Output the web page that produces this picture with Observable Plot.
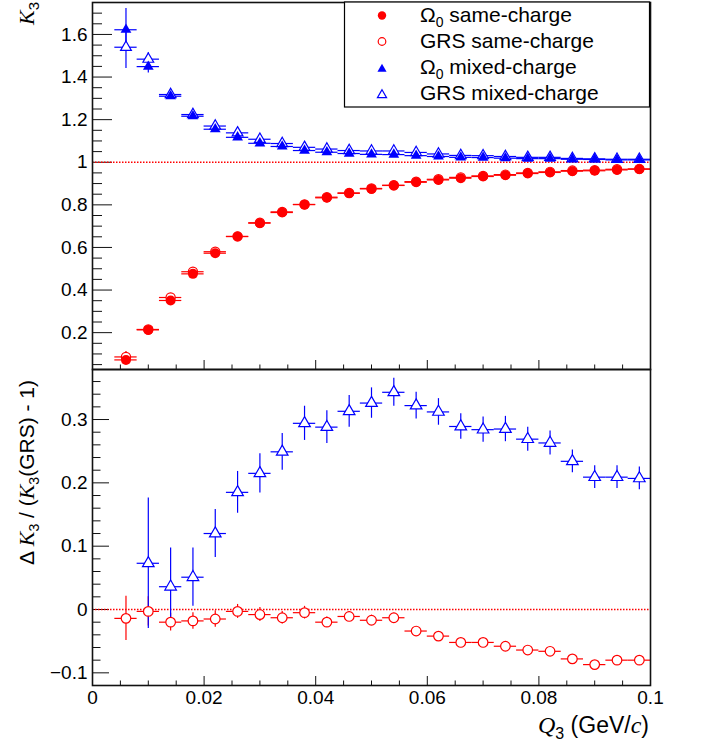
<!DOCTYPE html>
<html>
<head>
<meta charset="utf-8">
<script src="https://cdn.jsdelivr.net/npm/d3@7"></script>
<script src="https://cdn.jsdelivr.net/npm/@observablehq/plot@0.6"></script>
<style>
  body { margin: 0; background: white; }
  #chart { position: relative; width: 704px; height: 747px; font-family: "Liberation Sans", Arial, sans-serif; }
  #chart > svg { position: absolute; left: 0; }
</style>
</head>
<body>
<div id="chart"></div>
<script>
// ---------------- data ----------------
const q3 = [0.006, 0.010, 0.014, 0.018, 0.022, 0.026, 0.030, 0.034, 0.038, 0.042, 0.046, 0.050,
            0.054, 0.058, 0.062, 0.066, 0.070, 0.074, 0.078, 0.082, 0.086, 0.090, 0.094, 0.098];
const q3BinHalfWidth = 0.002;

const k3SameOmega0 = [0.072, 0.213, 0.351, 0.476, 0.573, 0.651, 0.714, 0.764, 0.801, 0.833, 0.854, 0.875,
                      0.891, 0.906, 0.917, 0.925, 0.933, 0.939, 0.947, 0.952, 0.958, 0.960, 0.964, 0.967];
const k3SameOmega0Err = [0.008, 0.006, 0.005, 0.005, 0.005, 0.004, 0.004, 0.004, 0.004, 0.004, 0.004, 0.004,
                         0.004, 0.004, 0.004, 0.004, 0.004, 0.004, 0.004, 0.004, 0.004, 0.004, 0.004, 0.004];
const k3SameGRS = [0.086, 0.215, 0.365, 0.486, 0.580, 0.652, 0.716, 0.767, 0.802, 0.836, 0.856, 0.877,
                   0.892, 0.909, 0.920, 0.929, 0.936, 0.942, 0.950, 0.955, 0.961, 0.963, 0.967, 0.969];
const k3SameGRSErr = [0.025, 0.010, 0.008, 0.007, 0.006, 0.005, 0.005, 0.005, 0.005, 0.005, 0.005, 0.005,
                      0.005, 0.005, 0.005, 0.005, 0.005, 0.005, 0.005, 0.005, 0.005, 0.005, 0.005, 0.005];
const k3MixedOmega0 = [1.622, 1.449, 1.310, 1.216, 1.155, 1.117, 1.089, 1.074, 1.055, 1.047, 1.041, 1.037,
                       1.036, 1.031, 1.027, 1.023, 1.022, 1.019, 1.017, 1.017, 1.014, 1.013, 1.011, 1.011];
const k3MixedOmega0Err = [0.100, 0.030, 0.012, 0.010, 0.008, 0.007, 0.006, 0.006, 0.005, 0.005, 0.005, 0.005,
                          0.004, 0.004, 0.004, 0.004, 0.004, 0.004, 0.004, 0.004, 0.004, 0.004, 0.004, 0.004];
const k3MixedGRS = [1.540, 1.484, 1.318, 1.224, 1.170, 1.138, 1.108, 1.088, 1.070, 1.062, 1.055, 1.053,
                    1.053, 1.046, 1.039, 1.032, 1.031, 1.027, 1.023, 1.023, 1.018, 1.016, 1.014, 1.014];
const k3MixedGRSErr = [0.100, 0.030, 0.010, 0.008, 0.007, 0.006, 0.005, 0.005, 0.005, 0.005, 0.005, 0.005,
                       0.004, 0.004, 0.004, 0.004, 0.004, 0.004, 0.004, 0.004, 0.004, 0.004, 0.004, 0.004];

const ratioSame = [-0.014, -0.003, -0.020, -0.018, -0.015, -0.003, -0.008, -0.013, -0.005, -0.020, -0.011, -0.017,
                   -0.013, -0.034, -0.042, -0.052, -0.052, -0.058, -0.064, -0.066, -0.078, -0.087, -0.080, -0.080];
const ratioSameErr = [0.035, 0.023, 0.014, 0.013, 0.013, 0.011, 0.011, 0.010, 0.010, 0.008, 0.008, 0.008,
                      0.007, 0.006, 0.006, 0.006, 0.005, 0.005, 0.005, 0.005, 0.005, 0.005, 0.005, 0.005];
const ratioMixed = [null, 0.073, 0.036, 0.051, 0.120, 0.185, 0.215, 0.249, 0.294, 0.288, 0.313, 0.326,
                    0.343, 0.322, 0.312, 0.289, 0.284, 0.285, 0.269, 0.263, 0.234, 0.209, 0.209, 0.207];
const ratioMixedErr = [null, 0.103, 0.061, 0.046, 0.038, 0.033, 0.031, 0.029, 0.027, 0.026, 0.025, 0.024,
                       0.022, 0.021, 0.021, 0.020, 0.020, 0.020, 0.019, 0.019, 0.018, 0.018, 0.018, 0.018];

const xTickLabels = [0, 0.02, 0.04, 0.06, 0.08, 0.1];
const yTopTickLabels = [0.2, 0.4, 0.6, 0.8, 1, 1.2, 1.4, 1.6];
const yBottomTickLabels = [-0.1, 0, 0.1, 0.2, 0.3];
const legendLabels = ["same-charge", "same-charge", "mixed-charge", "mixed-charge"];
const legendPrefixes = ["Ω0", "GRS", "Ω0", "GRS"];

// ---------------- helpers ----------------
const RED = "#ff0000", BLUE = "#0000ff";
const FONT = "Liberation Sans, Arial, sans-serif";
const fmt = d => (d < 0 ? "\u2212" : "") + String(Math.abs(d));
const notMajor = (majors) => (v) => !majors.some(t => Math.abs(t - v) < 1e-9);
const round6 = v => Math.round(v * 1e6) / 1e6;
const xMinor = d3.range(0, 0.1001, 0.005).map(round6).filter(notMajor(xTickLabels));
const yTopMinor = d3.range(0.05, 1.75, 0.05).map(round6).filter(notMajor(yTopTickLabels));
const yBottomMinor = d3.range(-0.12, 0.38, 0.02).map(round6).filter(notMajor(yBottomTickLabels));

function rows(vals, errs) {
  return q3.map((x, i) => ({x, y: vals[i], e: errs[i]})).filter(d => d.y != null);
}
function bars(data, color) {
  return [
    Plot.ruleY(data, {y: "y", x1: d => d.x - q3BinHalfWidth, x2: d => d.x + q3BinHalfWidth, stroke: color, strokeWidth: 1.2}),
    Plot.ruleX(data, {x: "x", y1: d => d.y - d.e, y2: d => d.y + d.e, stroke: color, strokeWidth: 1.2})
  ];
}
function openDot(data, color, symbol, r) {
  return Plot.dot(data, {x: "x", y: "y", symbol, r, fill: "white", stroke: color, strokeWidth: 1.2});
}
function fillDot(data, color, symbol, r) {
  return Plot.dot(data, {x: "x", y: "y", symbol, r, fill: color, stroke: "none"});
}

const sameO = rows(k3SameOmega0, k3SameOmega0Err);
const sameG = rows(k3SameGRS, k3SameGRSErr);
const mixO = rows(k3MixedOmega0, k3MixedOmega0Err);
const mixG = rows(k3MixedGRS, k3MixedGRSErr);
const rSame = rows(ratioSame, ratioSameErr);
const rMix = rows(ratioMixed, ratioMixedErr);

const chart = document.getElementById("chart");

// ---------------- top panel ----------------
const topPlot = Plot.plot({
  width: 704, height: 370,
  marginLeft: 92, marginRight: 54, marginTop: 2, marginBottom: 1,
  style: {background: "transparent", overflow: "visible", fontFamily: FONT, fontSize: "19px"},
  x: {domain: [0, 0.1]},
  y: {domain: [0.027, 1.75]},
  marks: [
    Plot.axisY(yTopTickLabels, {tickSize: -20, tickFormat: () => "", label: null, stroke: "#111"}),
    Plot.axisY(yTopMinor, {tickSize: -10, tickFormat: () => "", label: null, stroke: "#111"}),
    Plot.axisY(yTopTickLabels, {tickSize: 0, tickPadding: 5, fontSize: 19, tickFormat: fmt, label: null, fill: "#000"}),
    Plot.axisX(xTickLabels, {tickSize: -9, tickFormat: () => "", label: null, stroke: "#111"}),
    Plot.axisX(xMinor, {tickSize: -4.5, tickFormat: () => "", label: null, stroke: "#111"}),
    Plot.ruleY([1], {stroke: RED, strokeWidth: 1.3, strokeDasharray: "1.5,1.5"}),
    ...bars(sameG, RED), ...bars(sameO, RED), ...bars(mixG, BLUE), ...bars(mixO, BLUE),
    openDot(sameG, RED, "circle", 4.6),
    fillDot(sameO, RED, "circle", 5),
    openDot(mixG, BLUE, "triangle", 4),
    fillDot(mixO, BLUE, "triangle", 4),
    Plot.frame({stroke: "#111", strokeWidth: 1.6})
  ]
});
topPlot.style.top = "0px";
chart.appendChild(topPlot);

// ---------------- bottom panel ----------------
const bottomPlot = Plot.plot({
  width: 704, height: 379,
  marginLeft: 92, marginRight: 54, marginTop: 1, marginBottom: 62,
  style: {background: "transparent", overflow: "visible", fontFamily: FONT, fontSize: "19px"},
  x: {domain: [0, 0.1]},
  y: {domain: [-0.12, 0.379]},
  marks: [
    Plot.axisY(yBottomTickLabels, {tickSize: -17, tickFormat: () => "", label: null, stroke: "#111"}),
    Plot.axisY(yBottomMinor, {tickSize: -8.5, tickFormat: () => "", label: null, stroke: "#111"}),
    Plot.axisY(yBottomTickLabels, {tickSize: 0, tickPadding: 5, fontSize: 19, tickFormat: fmt, label: null, fill: "#000"}),
    Plot.axisX(xTickLabels, {tickSize: -9, tickFormat: () => "", label: null, stroke: "#111"}),
    Plot.axisX(xMinor, {tickSize: -4.5, tickFormat: () => "", label: null, stroke: "#111"}),
    Plot.axisX(xTickLabels, {tickSize: 0, tickPadding: 5, fontSize: 19, tickFormat: fmt, label: null, fill: "#000"}),
    Plot.ruleY([0], {x1: 0, x2: 0.1, stroke: RED, strokeWidth: 1.3, strokeDasharray: "1.5,1.5"}),
    ...bars(rSame, RED), ...bars(rMix, BLUE),
    openDot(rSame, RED, "circle", 4.8),
    openDot(rMix, BLUE, "triangle", 4.3),
    Plot.frame({stroke: "#111", strokeWidth: 1.6})
  ]
});
bottomPlot.style.top = "368px";
chart.appendChild(bottomPlot);

// ---------------- overlay: axis titles + legend ----------------
const ov = d3.select(chart).append("svg")
  .attr("width", 704).attr("height", 747)
  .style("top", "0px").style("pointer-events", "none")
  .style("font-family", FONT);

// K3 title (top y axis)
const kt = ov.append("text").attr("transform", "translate(33.5,2) rotate(-90)")
  .attr("text-anchor", "end").attr("font-size", 22).attr("fill", "#000");
kt.append("tspan").attr("font-family", "Liberation Serif, Times New Roman, serif").attr("font-style", "italic").text("K");
kt.append("tspan").attr("font-size", 15).attr("dy", 5).text("3");

// bottom y title
const bt = ov.append("text").attr("transform", "translate(34,380) rotate(-90)")
  .attr("text-anchor", "end").attr("font-size", 21).attr("fill", "#000");
bt.append("tspan").text("Δ ");
bt.append("tspan").attr("font-family", "Liberation Serif, Times New Roman, serif").attr("font-style", "italic").attr("font-size", 22).text("K");
bt.append("tspan").attr("font-size", 14).attr("dy", 5).text("3");
bt.append("tspan").attr("dy", -5).text(" / (");
bt.append("tspan").attr("font-family", "Liberation Serif, Times New Roman, serif").attr("font-style", "italic").attr("font-size", 22).text("K");
bt.append("tspan").attr("font-size", 14).attr("dy", 5).text("3");
bt.append("tspan").attr("dy", -5).text("(GRS) - 1)");

// x title
const xt = ov.append("text").attr("transform", "translate(649,733)")
  .attr("text-anchor", "end").attr("font-size", 23).attr("fill", "#000");
xt.append("tspan").attr("font-family", "Liberation Serif, Times New Roman, serif").attr("font-style", "italic").attr("font-size", 24).text("Q");
xt.append("tspan").attr("font-size", 16).attr("dy", 6).text("3");
xt.append("tspan").attr("dy", -6).text(" (GeV/");
xt.append("tspan").attr("font-family", "Liberation Serif, Times New Roman, serif").attr("font-style", "italic").attr("font-size", 24).text("c");
xt.append("tspan").text(")");

// legend
const lg = ov.append("g");
lg.append("rect").attr("x", 344.5).attr("y", 2).attr("width", 305).attr("height", 105)
  .attr("fill", "white").attr("stroke", "#000").attr("stroke-width", 1.2);
const legendRows = [
  {color: RED, shape: "circle", filled: true},
  {color: RED, shape: "circle", filled: false},
  {color: BLUE, shape: "triangle", filled: true},
  {color: BLUE, shape: "triangle", filled: false}
];
const rowY = [15, 41, 67, 93];
legendRows.forEach((r, i) => {
  const y = rowY[i];
  if (r.shape === "circle") {
    lg.append("circle").attr("cx", 382).attr("cy", y + 0.5).attr("r", r.filled ? 4.2 : 3.8)
      .attr("fill", r.filled ? r.color : "none").attr("stroke", r.filled ? "none" : r.color).attr("stroke-width", 1.2);
  } else {
    lg.append("path").attr("transform", `translate(382,${y + 2})`)
      .attr("d", d3.symbol(d3.symbolTriangle, 36)())
      .attr("fill", r.filled ? r.color : "none").attr("stroke", r.filled ? "none" : r.color).attr("stroke-width", 1.2);
  }
  const t = lg.append("text").attr("x", 420).attr("y", y).attr("dy", "0.35em").attr("font-size", 21).attr("fill", "#000");
  if (legendPrefixes[i] === "Ω0") {
    t.append("tspan").text("Ω");
    t.append("tspan").attr("font-size", 14).attr("dy", 5).text("0");
    t.append("tspan").attr("dy", -5).text(" " + legendLabels[i]);
  } else {
    t.append("tspan").text(legendPrefixes[i] + " " + legendLabels[i]);
  }
});
</script>
</body>
</html>
